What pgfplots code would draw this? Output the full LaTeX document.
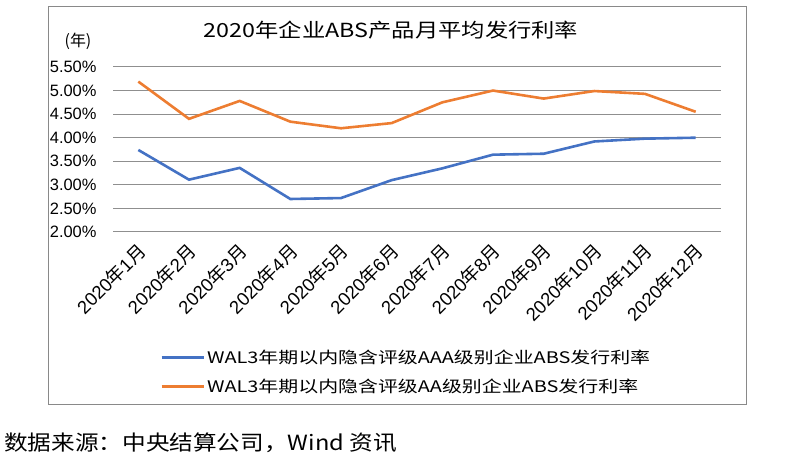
\documentclass[border=0pt]{standalone}
\usepackage{fontspec}
\setmainfont{Liberation Sans}
\newfontfamily\cjk{Noto Sans CJK SC}
\newfontfamily\cjkw[FakeStretch=1.2]{Noto Sans CJK SC}
\newfontfamily\cjkl[FakeStretch=1.25]{Noto Sans CJK SC}
\newfontfamily\cjks[FakeStretch=1.13]{Noto Sans CJK SC}
\usepackage{pgfplots}
\pgfplotsset{compat=1.18}
\definecolor{sblue}{HTML}{4472C4}
\definecolor{sorange}{HTML}{ED7D31}
\definecolor{gridgray}{HTML}{8F8F8F}
\definecolor{framegray}{HTML}{898989}
\newcommand{\lab}[1]{2020{\cjk 年}#1{\cjk 月}}
\begin{document}
\begin{tikzpicture}[x=1bp,y=1bp]
\path[use as bounding box] (0,0) rectangle (793,462);
\draw[framegray, line width=1bp] (48,455) rectangle (746,57);
\node[font=\cjkw\fontsize{19.5}{19.5}\selectfont] at (391,432) {2020年企业ABS产品月平均发行利率};
\node[font=\cjk\fontsize{16}{16}\selectfont] at (78,421) {(年)};
\node[anchor=west, font=\cjks\fontsize{21}{21}\selectfont, inner sep=0pt] at (4,19) {数据来源：中央结算公司，Wind 资讯};
\begin{axis}[
  at={(113bp,230bp)}, anchor=south west,
  scale only axis, width=608bp, height=165bp,
  xmin=-0.5, xmax=11.5, ymin=2, ymax=5.5,
  xtick={0,...,11},
  xticklabels={\lab{1},\lab{2},\lab{3},\lab{4},\lab{5},\lab{6},\lab{7},\lab{8},\lab{9},\lab{10},\lab{11},\lab{12}},
  ytick={2,2.5,3,3.5,4,4.5,5,5.5},
  yticklabels={2.00\%,2.50\%,3.00\%,3.50\%,4.00\%,4.50\%,5.00\%,5.50\%},
  axis line style={draw=none},
  major tick length=0pt,
  ymajorgrids, grid style={gridgray, line width=1bp},
  yticklabel style={font=\fontsize{16.5}{16.5}\selectfont, anchor=east, xshift=-13bp},
  xticklabel style={font=\fontsize{18.5}{18.5}\selectfont, rotate=45, anchor=east, xshift=-5bp, yshift=-14bp},
  clip=false,
  legend style={draw=none, fill=none, at={(0.077,-0.70)}, anchor=north west,
    font=\cjkl\fontsize{16}{16}\selectfont, row sep=10bp, inner sep=0pt},
  legend cell align=left,
  legend image code/.code={\draw[#1, line width=3bp] (0bp,0bp) -- (42bp,0bp);},
]
\addplot[sblue, line width=2.6bp] coordinates {
(0,3.74) (1,3.11) (2,3.36) (3,2.70) (4,2.72) (5,3.10) (6,3.35) (7,3.64) (8,3.66) (9,3.92) (10,3.98) (11,4.00)};
\addlegendentry{WAL3年期以内隐含评级AAA级别企业ABS发行利率}
\addplot[sorange, line width=2.6bp] coordinates {
(0,5.19) (1,4.40) (2,4.78) (3,4.34) (4,4.20) (5,4.31) (6,4.75) (7,5.00) (8,4.83) (9,4.99) (10,4.93) (11,4.55)};
\addlegendentry{WAL3年期以内隐含评级AA级别企业ABS发行利率}
\end{axis}
\end{tikzpicture}
\end{document}
